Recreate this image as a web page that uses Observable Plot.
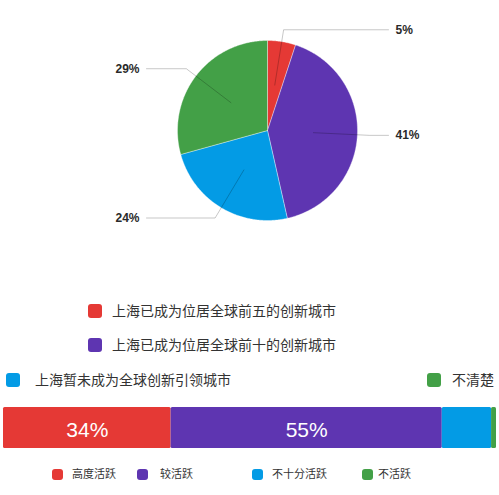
<!DOCTYPE html>
<html><head><meta charset="utf-8">
<script src="https://cdn.jsdelivr.net/npm/d3@7"></script>
<script src="https://cdn.jsdelivr.net/npm/@observablehq/plot@0.6"></script>
<style>
body{margin:0;background:#fff;font-family:"Noto Sans CJK SC","Noto Sans",sans-serif;}
#root{position:relative;width:499px;height:495px;overflow:hidden;}
.blk{position:absolute;left:0;}
.sw{position:absolute;border-radius:3px;}
.lt{position:absolute;white-space:nowrap;color:#333;line-height:1;}
</style></head><body><div id="root"></div>
<script>
// ---- data ----
const sliceNames = ["上海已成为位居全球前五的创新城市","上海已成为位居全球前十的创新城市","上海暂未成为全球创新引领城市","不清楚"];
const sliceValues = [5, 41, 24, 29];
const sliceColors = ["#e53935","#5e35b1","#039be5","#43a047"];
const barNames = ["高度活跃","较活跃","不十分活跃","不活跃"];
const barValues = [34, 55, 10, 1];
const barColors = ["#e53935","#5e35b1","#039be5","#43a047"];

const root = document.getElementById("root");

// ---- pie geometry (built from data via d3.pie) ----
const R = 90, rIn = 46, rElbow = 102, xEnd = 121, xLabel = 128;
const arcs = d3.pie().sort(null).value(d => d)(sliceValues);
const slicePolys = arcs.map((a, i) => {
  const pts = [{x: 0, y: 0}];
  const n = Math.max(2, Math.ceil((a.endAngle - a.startAngle) / 0.01));
  for (let k = 0; k <= n; k++) {
    const t = a.startAngle + (a.endAngle - a.startAngle) * k / n;
    pts.push({x: R * Math.sin(t), y: R * Math.cos(t)});
  }
  pts.push({x: 0, y: 0});
  return pts;
});
const leaders = arcs.map((a, i) => {
  const m = (a.startAngle + a.endAngle) / 2;
  const side = Math.sin(m) >= 0 ? 1 : -1;
  const ey = rElbow * Math.cos(m);
  return {
    pts: [
      {x: rIn * Math.sin(m), y: rIn * Math.cos(m)},
      {x: rElbow * Math.sin(m), y: ey},
      {x: side * xEnd, y: ey}
    ],
    label: {x: side * xLabel, y: ey, text: sliceValues[i] + "%", side}
  };
});
const labels = leaders.map(l => l.label);
const labelFont = "Liberation Sans, Arial, sans-serif";

const pie = Plot.plot({
  width: 499, height: 240, margin: 0,
  x: {domain: [-267, 232], range: [0, 499], axis: null},
  y: {domain: [-110, 130], range: [240, 0], axis: null},
  marks: [
    ...slicePolys.map((p, i) => Plot.line(p, {x: "x", y: "y", fill: sliceColors[i], stroke: "#ffffff", strokeWidth: 0.6, strokeOpacity: 0.6})),
    ...leaders.map(l => Plot.line(l.pts, {x: "x", y: "y", stroke: "#000", strokeOpacity: 0.22, strokeWidth: 1})),
    Plot.text(labels.filter(d => d.side > 0), {x: "x", y: "y", text: "text", textAnchor: "start", fontSize: 12, fontWeight: 600, fill: "#2a2a2a", fontFamily: labelFont}),
    Plot.text(labels.filter(d => d.side < 0), {x: "x", y: "y", text: "text", textAnchor: "end", fontSize: 12, fontWeight: 600, fill: "#2a2a2a", fontFamily: labelFont})
  ]
});
pie.classList.add("blk"); pie.style.top = "0px";
root.appendChild(pie);

// ---- legends ----
const topLegendPos = [
  {sx: 88, cy: 311, tx: 112},
  {sx: 88, cy: 345, tx: 112},
  {sx: 6, cy: 380, tx: 35},
  {sx: 427, cy: 380, tx: 452}
];
function addLegend(names, colors, pos, sw, fs) {
  names.forEach((n, i) => {
    const p = pos[i];
    const s = document.createElement("div");
    s.className = "sw";
    s.style.cssText += `left:${p.sx}px;top:${p.cy - sw / 2}px;width:${sw}px;height:${sw}px;background:${colors[i]};`;
    root.appendChild(s);
    const t = document.createElement("div");
    t.className = "lt";
    t.textContent = n;
    t.style.cssText += `left:${p.tx}px;top:${p.cy - fs / 2 - 1}px;font-size:${fs}px;`;
    root.appendChild(t);
  });
}
addLegend(sliceNames, sliceColors, topLegendPos, 14, 14);

// ---- stacked bar ----
const barData = barNames.map((n, i) => ({name: n, value: barValues[i]}));
const bar = Plot.plot({
  width: 499, height: 41, margin: 0,
  x: {domain: [0, 100], range: [3, 496], axis: null},
  color: {domain: barNames, range: barColors},
  marks: [
    Plot.barX(barData, Plot.stackX({x: "value", fill: "name", rx: 1.5})),
    Plot.text(barData, Plot.stackX({x: "value", text: d => d.value >= 20 ? d.value + "%" : "", fill: "white", fontSize: 21, dy: 2, fontFamily: labelFont}))
  ]
});
bar.classList.add("blk"); bar.style.top = "407px";
root.appendChild(bar);

const botLegendPos = [
  {sx: 52, cy: 474, tx: 72},
  {sx: 137, cy: 474, tx: 160},
  {sx: 252, cy: 474, tx: 272},
  {sx: 362, cy: 474, tx: 378}
];
addLegend(barNames, barColors, botLegendPos, 11, 11);
</script></body></html>
